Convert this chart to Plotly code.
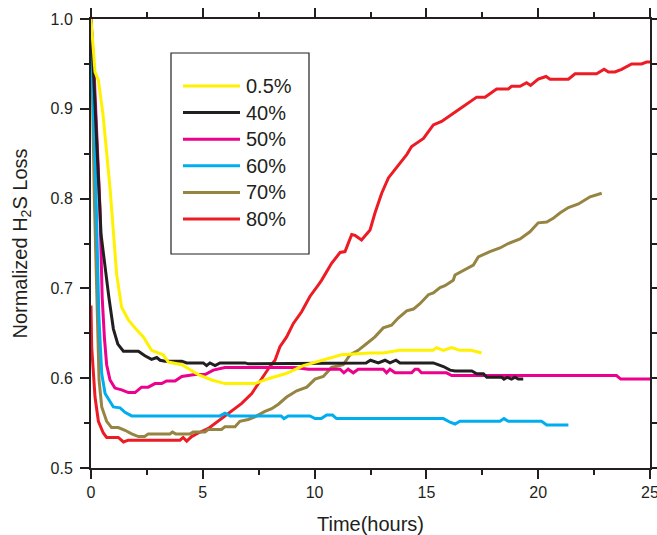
import plotly.graph_objects as go

# ---- data ----
names = ["0.5%", "40%", "50%", "60%", "70%", "80%"]
colors = ["#FFF200", "#231F20", "#EC008C", "#00AEEF", "#968443", "#ED1C24"]

x_05 = [0, 0.18, 0.33, 0.54, 0.85, 1.15, 1.37, 1.67, 2.0, 2.34, 2.71, 3.0, 3.23, 3.46, 4.06, 4.4, 4.8, 5.4,
        5.99, 7.33, 8.0, 8.68, 8.9, 9.5, 10.39, 11.2, 12.48, 13.07, 13.8, 15.3, 15.45, 15.76, 16.13, 16.5,
        17.0, 17.47]
y_05 = [1.0, 0.941, 0.932, 0.893, 0.812, 0.715, 0.679, 0.665, 0.655, 0.646, 0.631, 0.628, 0.626, 0.618,
        0.615, 0.610, 0.604, 0.598, 0.594, 0.594, 0.600, 0.605, 0.607, 0.614, 0.620, 0.626, 0.628, 0.628,
        0.631, 0.631, 0.634, 0.631, 0.634, 0.631, 0.631, 0.628]

x_40 = [0, 0.18, 0.45, 0.8, 1.0, 1.2, 1.45, 2.12, 2.41, 2.71, 2.94, 3.09, 3.31, 4.06, 4.28, 5.02, 5.17, 5.32,
        5.55, 5.77, 6.89, 7.03, 12.3, 12.5, 12.85, 13.15, 13.37, 13.64, 13.82, 15.31, 15.76, 16.06, 16.28,
        17.03, 17.25, 17.55, 17.7, 18.37, 18.47, 18.62, 18.81, 18.96, 19.11, 19.33]
y_40 = [1.0, 0.91, 0.76, 0.69, 0.655, 0.638, 0.630, 0.630, 0.625, 0.621, 0.623, 0.620, 0.619, 0.619, 0.617,
        0.617, 0.614, 0.617, 0.614, 0.617, 0.617, 0.616, 0.617, 0.620, 0.617, 0.620, 0.617, 0.620, 0.617,
        0.617, 0.613, 0.609, 0.608, 0.608, 0.605, 0.605, 0.601, 0.601, 0.599, 0.601, 0.599, 0.601, 0.599,
        0.599]

x_50 = [0, 0.15, 0.4, 0.5, 0.6, 0.7, 0.85, 1.07, 1.37, 1.67, 1.97, 2.26, 2.56, 2.86, 3.16, 3.38, 3.76, 4.06,
        4.35, 4.65, 5.1, 5.47, 5.99, 9.12, 9.72, 11.14, 11.31, 11.5, 11.73, 11.95, 13.07, 13.22, 13.37, 13.6,
        14.34, 14.49, 14.63, 14.78, 15.9, 16.13, 23.5, 23.69, 25.0]
y_50 = [1.0, 0.935, 0.79, 0.69, 0.645, 0.615, 0.598, 0.589, 0.587, 0.584, 0.584, 0.590, 0.590, 0.594, 0.594,
        0.597, 0.597, 0.602, 0.603, 0.604, 0.604, 0.609, 0.612, 0.612, 0.610, 0.610, 0.606, 0.610, 0.606,
        0.610, 0.610, 0.606, 0.610, 0.606, 0.606, 0.610, 0.610, 0.606, 0.606, 0.603, 0.603, 0.599, 0.599]

x_60 = [0, 0.2, 0.35, 0.48, 0.63, 0.85, 1.0, 1.3, 1.52, 1.82, 5.77, 5.99, 6.22, 8.5, 8.63, 8.82, 9.79, 10.02,
        10.3, 10.54, 10.8, 10.98, 15.76, 16.06, 16.28, 16.5, 18.29, 18.47, 18.66, 20.15, 20.38, 21.35]
y_60 = [0.98, 0.83, 0.67, 0.605, 0.583, 0.574, 0.568, 0.567, 0.562, 0.558, 0.558, 0.561, 0.558, 0.558, 0.555,
        0.558, 0.558, 0.555, 0.555, 0.559, 0.559, 0.555, 0.555, 0.551, 0.549, 0.552, 0.552, 0.555, 0.552,
        0.552, 0.548, 0.548]

x_70 = [0, 0.05, 0.15, 0.3, 0.36, 0.48, 0.7, 0.92, 1.22, 1.52, 1.82, 2.12, 2.4, 2.56, 3.53, 3.64, 3.79, 4.43,
        4.57, 5.1, 5.25, 5.84, 5.99, 6.44, 6.66, 7.03, 7.33, 7.78, 8.08, 8.38, 8.75, 9.2, 9.65, 10.02, 10.39,
        10.76, 11.28, 11.58, 11.95, 12.25, 12.7, 13.07, 13.44, 13.74, 14.12, 14.42, 14.71, 15.09, 15.31,
        15.61, 15.83, 16.2, 16.28, 17.1, 17.32, 17.84, 18.29, 18.66, 19.19, 19.63, 20.0, 20.38, 20.67, 20.97,
        21.35, 21.8, 22.32, 22.84]
y_70 = [0.97, 0.94, 0.80, 0.648, 0.598, 0.568, 0.552, 0.545, 0.545, 0.542, 0.538, 0.535, 0.535, 0.538, 0.538,
        0.540, 0.538, 0.538, 0.540, 0.540, 0.543, 0.543, 0.546, 0.546, 0.552, 0.554, 0.557, 0.563, 0.566,
        0.571, 0.579, 0.586, 0.590, 0.599, 0.602, 0.612, 0.615, 0.626, 0.631, 0.637, 0.646, 0.656, 0.659,
        0.667, 0.675, 0.677, 0.683, 0.693, 0.695, 0.701, 0.703, 0.709, 0.715, 0.726, 0.735, 0.741, 0.745,
        0.750, 0.755, 0.763, 0.773, 0.774, 0.778, 0.784, 0.790, 0.794, 0.802, 0.806]

x_80 = [0, 0.03, 0.18, 0.33, 0.55, 0.7, 1.22, 1.45, 1.67, 3.98, 4.12, 4.28, 4.5, 4.8, 5.25, 5.69, 6.14, 6.74,
        7.19, 7.63, 8.0, 8.23, 8.45, 8.75, 9.05, 9.42, 9.79, 10.17, 10.31, 10.76, 11.14, 11.36, 11.66, 11.81,
        12.1, 12.48, 12.7, 13.0, 13.3, 13.74, 14.12, 14.34, 14.87, 15.31, 15.68, 16.5, 17.25, 17.62, 18.14,
        18.66, 18.81, 19.19, 19.48, 19.66, 20.0, 20.35, 20.53, 21.35, 21.65, 22.61, 22.95, 23.14, 23.43,
        23.73, 24.18, 24.62, 24.85, 25.0]
y_80 = [0.681, 0.635, 0.579, 0.552, 0.539, 0.534, 0.534, 0.529, 0.531, 0.531, 0.534, 0.530, 0.535, 0.539,
        0.544, 0.552, 0.561, 0.572, 0.583, 0.600, 0.613, 0.620, 0.635, 0.646, 0.661, 0.674, 0.691, 0.704,
        0.709, 0.728, 0.740, 0.741, 0.760, 0.759, 0.754, 0.765, 0.784, 0.806, 0.823, 0.837, 0.849, 0.858,
        0.867, 0.882, 0.886, 0.900, 0.913, 0.913, 0.922, 0.922, 0.925, 0.925, 0.929, 0.926, 0.933, 0.936,
        0.933, 0.933, 0.939, 0.939, 0.944, 0.941, 0.941, 0.944, 0.950, 0.950, 0.952, 0.952]

xs = [x_05, x_40, x_50, x_60, x_70, x_80]
ys = [y_05, y_40, y_50, y_60, y_70, y_80]

x_ticks = [0, 5, 10, 15, 20, 25]
y_ticks = [0.5, 0.6, 0.7, 0.8, 0.9, 1.0]

# ---- figure ----
W, H = 657, 535
ML, MR, MT, MB = 91, 7, 19, 67
PW, PH = W - ML - MR, H - MT - MB
TXT = "#231F20"
FONT = "Liberation Sans, Arial, sans-serif"

fig = go.Figure()
order = [5, 4, 3, 2, 1, 0]
for i in order:
    fig.add_trace(go.Scatter(x=xs[i], y=ys[i], mode="lines", name=names[i],
                             line=dict(color=colors[i], width=3), showlegend=False))

def px_x(p):
    return (p - ML) / PW

def px_y(p):
    return (H - MB - p) / PH

# manual legend (box, samples, labels)
shapes = [dict(type="rect", xref="paper", yref="paper",
               x0=px_x(171), x1=px_x(309), y0=px_y(254), y1=px_y(53),
               line=dict(color="#231F20", width=1.2), fillcolor="white", layer="above")]
annotations = []
for k, nm in enumerate(names):
    yc = 86 + k * 26.6
    shapes.append(dict(type="line", xref="paper", yref="paper",
                       x0=px_x(183), x1=px_x(240), y0=px_y(yc), y1=px_y(yc),
                       line=dict(color=colors[k], width=3), layer="above"))
    annotations.append(dict(xref="paper", yref="paper", x=px_x(244), y=px_y(yc),
                            text=nm, showarrow=False, xanchor="left", yanchor="middle",
                            font=dict(size=20, color=TXT, family=FONT)))

axis_common = dict(showline=True, linecolor="#231F20", linewidth=2, mirror="ticks",
                   ticks="outside", ticklen=9, tickwidth=1.5, tickcolor="#231F20",
                   showgrid=False, zeroline=False, automargin=False,
                   ticklabeloverflow="allow",
                   tickfont=dict(size=16, color=TXT, family=FONT))

fig.update_layout(
    width=W, height=H,
    margin=dict(l=ML, r=MR, t=MT, b=MB),
    paper_bgcolor="white", plot_bgcolor="white",
    font=dict(family=FONT, color=TXT),
    shapes=shapes, annotations=annotations,
    xaxis=dict(range=[0, 25], tickvals=x_ticks, ticktext=[str(v) for v in x_ticks],
               minor=dict(dtick=2.5, ticklen=5, tickwidth=1.5, tickcolor="#231F20", ticks="outside"),
               title=dict(text="Time(hours)", font=dict(size=20, color=TXT, family=FONT), standoff=18),
               **axis_common),
    yaxis=dict(range=[0.5, 1.0], tickvals=y_ticks, ticktext=[f"{v:.1f}" for v in y_ticks],
               ticklabelstandoff=4,
               minor=dict(dtick=0.05, ticklen=5, tickwidth=1.5, tickcolor="#231F20", ticks="outside"),
               title=dict(text="Normalized H<sub>2</sub>S Loss", font=dict(size=20, color=TXT, family=FONT),
                          standoff=18),
               **axis_common),
)

fig.write_html("out.html")
